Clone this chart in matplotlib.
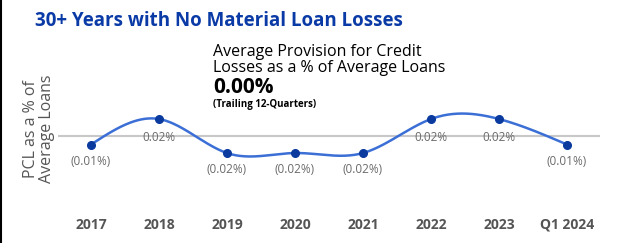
import numpy as np
import matplotlib.pyplot as plt
from matplotlib.lines import Line2D

plt.rcParams['font.family'] = ['Open Sans', 'DejaVu Sans']

# data
periods = ['2017', '2018', '2019', '2020', '2021', '2022', '2023', 'Q1 2024']
pcl = [-0.01, 0.02, -0.02, -0.02, -0.02, 0.02, 0.02, -0.01]
labels = ['(0.01%)', '0.02%', '(0.02%)', '(0.02%)', '(0.02%)', '0.02%', '0.02%', '(0.01%)']


def natural_spline(x, y, n=400):
    # smooth line drawn through the points (natural cubic spline)
    x = np.asarray(x, float)
    y = np.asarray(y, float)
    k = len(x)
    h = np.diff(x)
    A = np.zeros((k, k))
    b = np.zeros(k)
    A[0, 0] = A[-1, -1] = 1
    for i in range(1, k - 1):
        A[i, i - 1] = h[i - 1]
        A[i, i] = 2 * (h[i - 1] + h[i])
        A[i, i + 1] = h[i]
        b[i] = 3 * ((y[i + 1] - y[i]) / h[i] - (y[i] - y[i - 1]) / h[i - 1])
    c = np.linalg.solve(A, b)
    xs = np.linspace(x[0], x[-1], n)
    idx = np.clip(np.searchsorted(x, xs) - 1, 0, k - 2)
    dx = xs - x[idx]
    bb = (y[idx + 1] - y[idx]) / h[idx] - h[idx] * (2 * c[idx] + c[idx + 1]) / 3
    d = (c[idx + 1] - c[idx]) / (3 * h[idx])
    return xs, y[idx] + bb * dx + c[idx] * dx ** 2 + d * dx ** 3


W, H = 640, 243
fig = plt.figure(figsize=(W / 100, H / 100), dpi=100)
ax = fig.add_axes([58 / W, 1 - 160 / H, 542 / W, 50 / H])

x = np.arange(len(periods))
xs, ys = natural_spline(x, pcl)
ax.axhline(0, color='#c8c8c8', lw=1.5, zorder=1)
ax.plot(xs, ys, color='#3b6fd6', lw=1.8, zorder=2)
ax.plot(x, pcl, 'o', color='#0a3a9e', ms=5.5, zorder=3)

for xi, v, lab in zip(x, pcl, labels):
    off = -12 if v < 0 else -13
    ax.annotate(lab, (xi, v), xytext=(0, off), textcoords='offset points',
                ha='center', va='center', fontsize=8.5, color='#6b6b6b')

ax.set_xlim(-0.485, 7.485)
ax.set_ylim(-0.0282, 0.0306)
ax.set_xticks(x)
ax.set_xticklabels(periods, fontsize=10, fontweight='bold', color='#555555')
ax.tick_params(axis='x', length=0, pad=41.5)
ax.set_yticks([])
for s in ax.spines.values():
    s.set_visible(False)
ax.patch.set_alpha(0)

fig.text(35 / W, 1 - 26 / H, '30+ Years with No Material Loan Losses',
         fontsize=13.5, fontweight='bold', color='#0a3aa6', va='baseline')
fig.text(39 / W, 1 - 129 / H, 'PCL as a % of\nAverage Loans', rotation=90,
         fontsize=11.5, color='#555555', ha='center', va='center',
         linespacing=1.0)
fig.text(213 / W, 1 - 56 / H, 'Average Provision for Credit',
         fontsize=11.5, color='black', va='baseline')
fig.text(213 / W, 1 - 72 / H, 'Losses as a % of Average Loans',
         fontsize=11.5, color='black', va='baseline')
fig.text(213 / W, 1 - 93 / H, '0.00%', fontsize=15, fontweight='bold',
         color='black', va='baseline')
fig.text(213 / W, 1 - 107 / H, '(Trailing 12-Quarters)', fontsize=7,
         fontweight='bold', color='black', va='baseline')

fig.add_artist(Line2D([1 / W, 1 / W], [0, 1], color='black', lw=1.5))

fig.savefig('out.png', dpi=100)
